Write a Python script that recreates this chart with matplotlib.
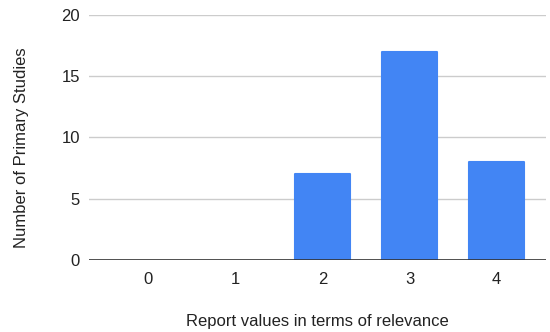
import matplotlib.pyplot as plt

plt.rcParams['font.family'] = ['Liberation Sans', 'DejaVu Sans']

relevance = ['0', '1', '2', '3', '4']
studies = [0, 0, 7, 17, 8]

fig = plt.figure(figsize=(5.5, 3.32), dpi=100)
ax = fig.add_axes([0.162, 0.217, 0.831, 0.738])

x = range(len(relevance))
bars = ax.bar(x, studies, width=0.63, color='#4285f4', edgecolor='#4285f4',
              linewidth=1.5, zorder=3)
for b, v in zip(bars, studies):
    b.set_joinstyle('round')
    if v == 0:
        b.set_linewidth(0)

ax.set_xlim(-0.68, 4.57)
ax.set_ylim(0, 20)
ax.set_yticks([0, 5, 10, 15, 20])
ax.set_xticks(list(x))
ax.set_xticklabels(relevance)

ax.grid(axis='y', color='#cccccc', linewidth=1, zorder=0)
ax.axhline(0, color='#333333', linewidth=1.2, zorder=4)
for side in ['top', 'right', 'left', 'bottom']:
    ax.spines[side].set_visible(False)
ax.tick_params(axis='both', length=0, labelsize=12, colors='#222222')
ax.tick_params(axis='y', pad=6.5)
ax.tick_params(axis='x', pad=9)

ax.set_xlabel('Report values in terms of relevance', fontsize=12, color='#222222', labelpad=19)
ax.set_ylabel('Number of Primary Studies', fontsize=12, color='#222222', labelpad=25)
ax.yaxis.set_label_coords(-0.131, 0.46)

plt.savefig('out.png', dpi=100)
